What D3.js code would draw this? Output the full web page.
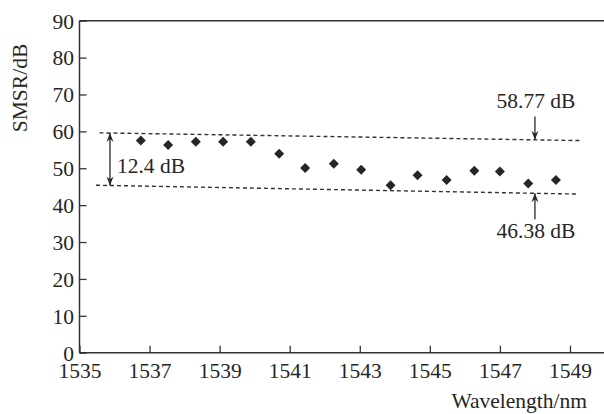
<!DOCTYPE html>
<html>
<head>
<meta charset="utf-8">
<script src="https://cdn.jsdelivr.net/npm/d3@7"></script>
<style>
  body { margin: 0; background: #fff; }
  svg text { font-family: "Times New Roman", "Liberation Serif", Times, serif; fill: #262626; }
</style>
</head>
<body>
<div id="chart"></div>
<script>
// data
const wavelength = [1536.75, 1537.53, 1538.32, 1539.10, 1539.89, 1540.70, 1541.44, 1542.26,
  1543.04, 1543.88, 1544.65, 1545.48, 1546.27, 1547.00, 1547.81, 1548.60];
const smsr = [57.5, 56.3, 57.2, 57.2, 57.2, 53.9, 50.1, 51.2, 49.6, 45.4, 48.1, 46.8, 49.3, 49.1, 45.9, 46.8];

const xTicks = [1535, 1537, 1539, 1541, 1543, 1545, 1547, 1549];
const yTicks = [0, 10, 20, 30, 40, 50, 60, 70, 80, 90];

// dashed envelope lines  [wavelength, dB]
const upperLine = [[1535.57, 59.6], [1549.33, 57.5]];
const lowerLine = [[1535.47, 45.4], [1549.21, 43.0]];
const spanX = 1535.87;     // 12.4 dB double arrow
const markX = 1548.0;      // 58.77 / 46.38 arrows
const upperArrowFrom = 64.0;
const lowerArrowFrom = 36.2;

const width = 604, height = 414;
const fs = 21.5;
const ink = "#262626";
const serif = '"Times New Roman", "Liberation Serif", Times, serif';

const svg = d3.select("#chart").append("svg")
  .attr("width", width).attr("height", height);

const x = d3.scaleLinear().domain([1535, 1550]).range([79.5, 605]);
const y = d3.scaleLinear().domain([0, 90]).range([352.7, 20.7]);

// frame: left, top, bottom
svg.append("line").attr("x1", x(1535)).attr("x2", x(1535)).attr("y1", y(0)).attr("y2", y(90))
  .attr("stroke", "#333").attr("stroke-width", 1.5);
svg.append("line").attr("x1", x(1535)).attr("x2", width).attr("y1", y(90)).attr("y2", y(90))
  .attr("stroke", "#333").attr("stroke-width", 1.5);

const xAxis = svg.append("g")
  .attr("transform", `translate(0,${y(0)})`)
  .call(d3.axisBottom(x).tickValues(xTicks).tickFormat(d3.format("d")).tickSizeInner(-7).tickSizeOuter(0).tickPadding(10));
xAxis.attr("font-family", serif);
xAxis.select(".domain").attr("d", `M${x(1535)},0H${width}`).attr("stroke", "#333").attr("stroke-width", 1.5);
xAxis.selectAll(".tick line").attr("stroke", "#333").attr("stroke-width", 1.3);
xAxis.selectAll("text").attr("font-size", fs).attr("fill", ink);

const yAxis = svg.append("g")
  .attr("transform", `translate(${x(1535)},0)`)
  .call(d3.axisLeft(y).tickValues(yTicks).tickSizeInner(-7).tickSizeOuter(0).tickPadding(5.5));
yAxis.attr("font-family", serif);
yAxis.select(".domain").remove();
yAxis.selectAll(".tick line").attr("stroke", "#333").attr("stroke-width", 1.3);
yAxis.selectAll("text").attr("font-size", fs).attr("fill", ink)
  .attr("dy", "0.34em");

// axis titles
svg.append("text")
  .attr("transform", "translate(26.7,88) rotate(-90)")
  .attr("text-anchor", "middle")
  .attr("font-size", fs)
  .text("SMSR/dB");

svg.append("text")
  .attr("x", 587).attr("y", 408)
  .attr("text-anchor", "end")
  .attr("font-size", fs)
  .text("Wavelength/nm");

// dashed lines
const line = d3.line().x(d => x(d[0])).y(d => y(d[1]));
[upperLine, lowerLine].forEach(l => {
  svg.append("path")
    .attr("d", line(l))
    .attr("fill", "none")
    .attr("stroke", "#333")
    .attr("stroke-width", 1.4)
    .attr("stroke-dasharray", "4,3");
});

function valueAt(l, wl) {
  return d3.scaleLinear().domain([l[0][0], l[1][0]]).range([l[0][1], l[1][1]])(wl);
}

function arrow(x0, yFrom, yTo, twoHeads) {
  svg.append("line").attr("x1", x0).attr("x2", x0).attr("y1", yFrom).attr("y2", yTo)
    .attr("stroke", ink).attr("stroke-width", 1.3);
  const head = (yt, dir) => {
    svg.append("path")
      .attr("d", `M${x0},${yt} L${x0 - 3.5},${yt - dir * 9} L${x0},${yt - dir * 6} L${x0 + 3.5},${yt - dir * 9} Z`)
      .attr("fill", ink);
  };
  head(yTo, yTo > yFrom ? 1 : -1);
  if (twoHeads) head(yFrom, yFrom > yTo ? 1 : -1);
}

// 12.4 dB span
const ySpanTop = y(valueAt(upperLine, spanX));
const ySpanBot = y(valueAt(lowerLine, spanX));
arrow(x(spanX), ySpanBot, ySpanTop, true);
svg.append("text")
  .attr("x", x(spanX) + 7).attr("y", 173.3)
  .attr("font-size", fs)
  .text("12.4 dB");

// 58.77 dB
arrow(x(markX), y(upperArrowFrom), y(valueAt(upperLine, markX)), false);
svg.append("text")
  .attr("x", x(markX) + 1).attr("y", y(upperArrowFrom) - 9)
  .attr("text-anchor", "middle")
  .attr("font-size", fs)
  .text("58.77 dB");

// 46.38 dB
arrow(x(markX), y(lowerArrowFrom), y(valueAt(lowerLine, markX)), false);
svg.append("text")
  .attr("x", x(markX) + 1).attr("y", y(lowerArrowFrom) + 19)
  .attr("text-anchor", "middle")
  .attr("font-size", fs)
  .text("46.38 dB");

// points
const pts = wavelength.map((w, i) => ({ w: w, v: smsr[i] }));
svg.append("g").selectAll("path")
  .data(pts)
  .enter()
  .append("path")
  .attr("d", d3.symbol().type(d3.symbolSquare).size(50))
  .attr("transform", d => `translate(${x(d.w)},${y(d.v)}) rotate(45)`)
  .attr("fill", ink);
</script>
</body>
</html>
